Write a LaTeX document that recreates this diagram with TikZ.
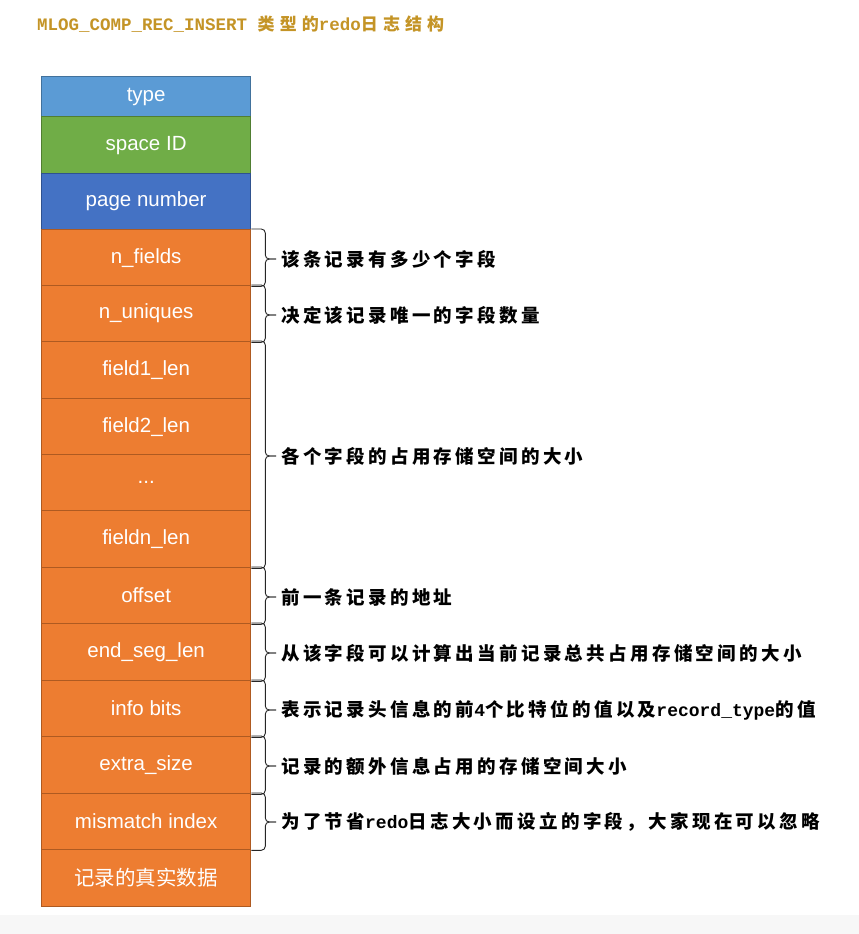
\documentclass[tikz,border=0pt]{standalone}
\usepackage{fontspec}
\setmainfont{Liberation Sans}
\newfontfamily\cjk{Noto Sans CJK SC}
\newfontfamily\mymono{Liberation Mono}
\definecolor{cType}{RGB}{91,155,213}
\definecolor{cTypeB}{RGB}{65,113,156}
\definecolor{cSpace}{RGB}{112,173,71}
\definecolor{cSpaceB}{RGB}{80,126,50}
\definecolor{cPage}{RGB}{68,114,196}
\definecolor{cPageB}{RGB}{47,82,143}
\definecolor{cOr}{RGB}{237,125,49}
\definecolor{cOrB}{RGB}{174,90,33}
\definecolor{cTitle}{RGB}{196,148,38}
\newcommand\zh[1]{{\cjk\bfseries\addfontfeature{LetterSpace=18}#1}}
\newcommand\mo[1]{{\mymono\bfseries\fontsize{18}{20}\selectfont #1}}
\begin{document}
\begin{tikzpicture}[x=1pt,y=-1pt,
  fld/.style={draw, line width=1.3pt, minimum width=209pt, anchor=north west, inner sep=0pt,
     text=white, font=\fontsize{20.5}{22}\selectfont},
  orb/.style={fld, fill=cOr, draw=cOrB},
  note/.style={anchor=west, inner sep=0pt, font=\fontsize{18.5}{20}\selectfont},
  brace/.style={draw=black!85, line width=0.9pt, rounded corners=4pt}]
\useasboundingbox (0,0) rectangle (859,934);
\fill[black!3] (0,915) rectangle (859,934);
\node[anchor=west, inner sep=0pt, text=cTitle] (title) at (37,24)
  {{\mymono\bfseries\fontsize{17.5}{20}\selectfont MLOG\_COMP\_REC\_INSERT }{\cjk\bfseries\fontsize{17}{20}\selectfont\addfontfeature{LetterSpace=30}类型的}{\mymono\bfseries\fontsize{17.5}{20}\selectfont redo}{\cjk\bfseries\fontsize{17}{20}\selectfont\addfontfeature{LetterSpace=30}日志结构}};
\node[fld, fill=cType, draw=cTypeB, minimum height=40pt] (b1) at (41,76) {type};
\node[fld, fill=cSpace, draw=cSpaceB, minimum height=57pt] (b2) at (41,116) {space ID};
\node[fld, fill=cPage, draw=cPageB, minimum height=56pt] (b3) at (41,173) {page number};
\node[orb, minimum height=56pt] (b4) at (41,229) {n\_fields};
\node[orb, minimum height=56pt] (b5) at (41,285) {n\_uniques};
\node[orb, minimum height=57pt] (b6) at (41,341) {field1\_len};
\node[orb, minimum height=56pt] (b7) at (41,398) {field2\_len};
\node[orb, minimum height=56pt] (b8) at (41,454) {...};
\node[orb, minimum height=57pt] (b9) at (41,510) {fieldn\_len};
\node[orb, minimum height=56pt] (b10) at (41,567) {offset};
\node[orb, minimum height=57pt] (b11) at (41,623) {end\_seg\_len};
\node[orb, minimum height=56pt] (b12) at (41,680) {info bits};
\node[orb, minimum height=57pt] (b13) at (41,736) {extra\_size};
\node[orb, minimum height=56pt] (b14) at (41,793) {mismatch index};
\node[orb, minimum height=57pt] (b15) at (41,849) {{\cjk 记录的真实数据}};
% annotations
\node[note] (n1) at (281,259) {\zh{该条记录有多少个字段}};
\node[note] (n2) at (281,315) {\zh{决定该记录唯一的字段数量}};
\node[note] (n3) at (281,456) {\zh{各个字段的占用存储空间的大小}};
\node[note] (n4) at (281,597) {\zh{前一条记录的地址}};
\node[note] (n5) at (281,653) {\zh{从该字段可以计算出当前记录总共占用存储空间的大小}};
\node[note] (n6) at (281,710) {\zh{表示记录头信息的前}\mo{4}\zh{个比特位的值以及}\mo{record\_type}\zh{的值}};
\node[note] (n7) at (281,766) {\zh{记录的额外信息占用的存储空间大小}};
\node[note] (n8) at (281,822) {\zh{为了节省}\mo{redo}\zh{日志大小而设立的字段，大家现在可以忽略}};
% braces
\foreach \t/\b/\n in {b4/b4/n1, b5/b5/n2, b6/b9/n3, b10/b10/n4, b11/b11/n5, b12/b12/n6, b13/b13/n7, b14/b14/n8}{
  \draw[brace] (\t.north east) -- ++(14,0) |- ([xshift=-5pt]\n.west);
  \draw[brace] (\b.south east) -- ++(14,0) |- ([xshift=-5pt]\n.west);
}
\end{tikzpicture}
\end{document}
